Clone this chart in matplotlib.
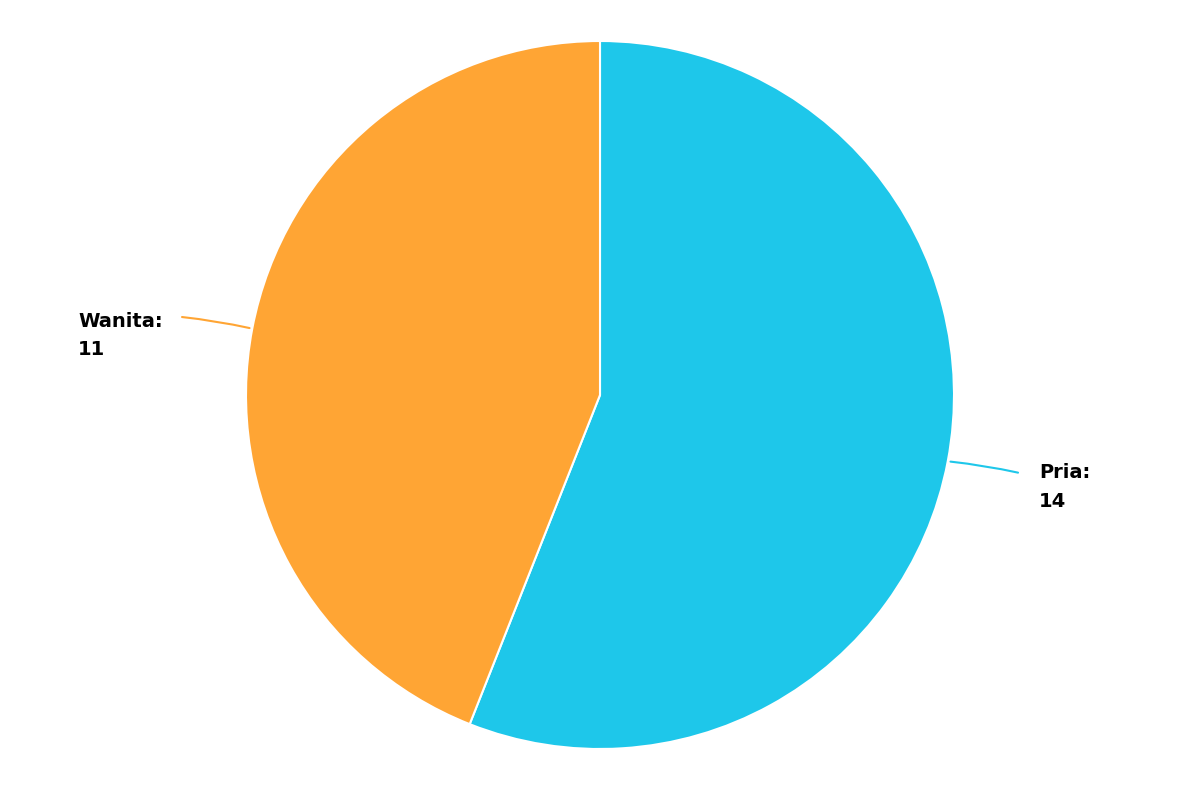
import numpy as np
import matplotlib.pyplot as plt

# data
labels = ['Pria', 'Wanita']
counts = [14, 11]
colors = ['#1EC7EA', '#FFA534']

fig = plt.figure(figsize=[12, 8], dpi=100)
ax = fig.add_axes([0, 0, 1, 1])

cx, cy, r = 600, 405, 354          # pie centre and radius in pixel units
wedges, _ = ax.pie(counts, colors=colors, startangle=90, counterclock=False,
                   center=(cx, cy), radius=r,
                   wedgeprops=dict(edgecolor='white', linewidth=1.5))

ax.set_xlim(0, 1200)
ax.set_ylim(0, 800)
ax.set_aspect('equal')
ax.axis('off')

# curved connector lines plus bold labels
for w, name, n, col in zip(wedges, labels, counts, colors):
    mid = np.deg2rad((w.theta1 + w.theta2) / 2)
    x0, y0 = cx + r * np.cos(mid), cy + r * np.sin(mid)
    x1, y1 = cx + 1.21 * r * np.cos(mid), cy + 1.21 * r * np.sin(mid)
    side = 1 if np.cos(mid) > 0 else -1
    y1 += 2 * side
    ax.annotate('', xy=(x1, y1), xytext=(x0, y0),
                arrowprops=dict(arrowstyle='-', color=col, lw=1.5,
                                connectionstyle='arc3,rad=%s' % (-0.03 * side)))
    if side > 0:
        tx, ty = x1 + 18, y1 + 10
    else:
        tx, ty = 78, y1 + 5
    ax.text(tx, ty, f'{name}:\n{n}', ha='left', va='top', fontsize=14,
            fontweight='bold', color='black', linespacing=1.65)

plt.savefig('out.png')
